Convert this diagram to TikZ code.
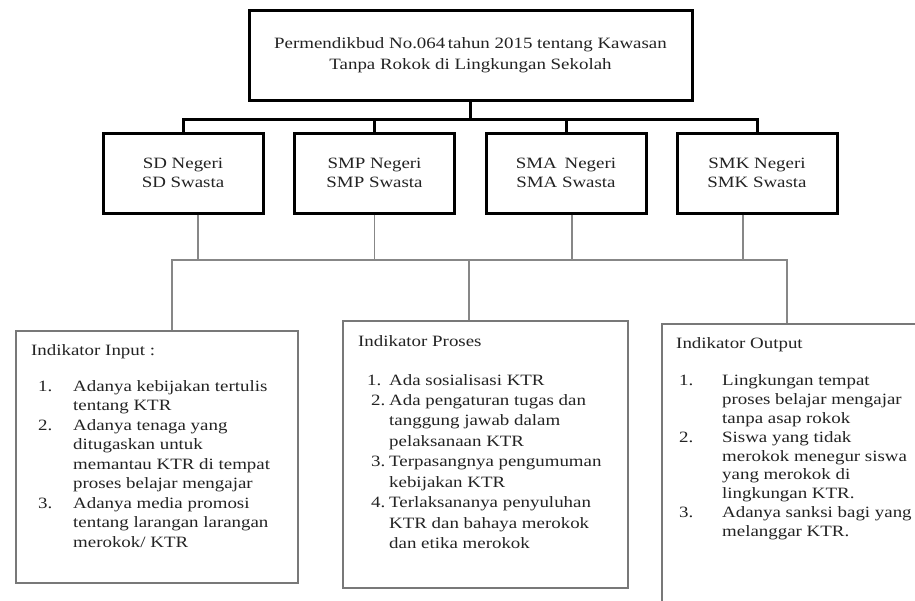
\documentclass[tikz,border=0pt]{standalone}
\usepackage{fontspec}
\setmainfont{Liberation Serif}[FakeStretch=1.2]
\usepackage{tikz}
\usetikzlibrary{calc}
\definecolor{ink}{RGB}{35, 35, 35}
\definecolor{frame}{RGB}{120, 120, 120}
\definecolor{wire}{RGB}{135, 135, 135}
\newcommand{\KTRsize}{\fontsize{15.75}{19.5}\selectfont}

\begin{document}
\begin{tikzpicture}[x=1pt, y=-1pt, font=\KTRsize,
  mainbox/.style={draw=black, line width=3pt, fill=white, text=ink, align=center, inner sep=0pt},
  indbox/.style={draw=frame, line width=1.5pt, anchor=north west, inner sep=0pt},
  indtext/.style={anchor=north west, inner sep=0pt, text=ink},
  bus/.style={line width=3pt},
  link/.style={draw=wire, line width=1.2pt}]

  \useasboundingbox (0, 0) rectangle (915, 600);
  \fill[white] (0, 0) rectangle (915, 600);
  \clip (0, 0) rectangle (915, 600);

  % peraturan dan jenjang sekolah
  \node[mainbox, minimum width=443pt, minimum height=90pt] (perm) at (470.5, 55)
  {Permendikbud No.064\,tahun 2015 tentang Kawasan\\[1.5pt] Tanpa Rokok di Lingkungan Sekolah};

  \foreach \name/\xpos/\first/\second in {sd/183/SD Negeri/SD Swasta,
      smp/374.5/SMP Negeri/SMP Swasta, sma/566/SMA\enspace Negeri/SMA Swasta,
      smk/757/SMK Negeri/SMK Swasta} {
    \node[mainbox, minimum width=160pt, minimum height=80pt] (\name) at (\xpos, 173) {\first\\\second};
  }

  \coordinate (bus) at ($(perm.south) + (0, 18)$);
  \draw[bus] (perm.south) -- (bus);
  \draw[bus] (sd.north) |- (bus) -| (smk.north);
  \draw[bus] (smp.north) -- (smp.north |- bus);
  \draw[bus] (sma.north) -- (sma.north |- bus);

  % kotak indikator
  \node[indbox, minimum width=282pt, minimum height=252pt] (input) at (15, 330) {};
  \node[indbox, minimum width=285pt, minimum height=267pt] (proses) at (342, 320) {};
  \node[indbox, minimum width=265pt, minimum height=295pt] (output) at (661, 323) {};

  \coordinate (hub) at (469, 260);
  \coordinate (hubL) at (172, 260);
  \coordinate (hubR) at (787, 260);
  \draw[link] (input.north -| hubL) -- (hubL) -- (hubR) -- (output.north -| hubR);
  \draw[link] (hub) -- (proses.north -| hub);
  \draw[link] ([xshift=15pt]sd.south) |- (hub);
  \draw[link] (smp.south) |- (hub);
  \draw[link] ([xshift=6pt]sma.south) |- (hub);
  \draw[link] ([xshift=-14pt]smk.south) |- (hub);

  \node[indtext] (inputtext) at ($(input.north west) + (16, 12)$) {%
    \begin{tabular}{@{\hspace{7pt}}p{35pt}@{}l@{}}
      \multicolumn{2}{@{}l@{}}{Indikator Input :}\\[16pt]
      1. & Adanya kebijakan tertulis\\
         & tentang KTR\\
      2. & Adanya tenaga yang\\
         & ditugaskan untuk\\
         & memantau KTR di tempat\\
         & proses belajar mengajar\\
      3. & Adanya media promosi\\
         & tentang larangan larangan\\
         & merokok/ KTR
    \end{tabular}};

  \node[indtext] (prosestext) at ($(proses.north west) + (16, 12)$) {%
    \renewcommand{\arraystretch}{1.05}%
    \begin{tabular}{@{}p{31pt}@{}l@{}}
      \multicolumn{2}{@{}l@{}}{Indikator Proses}\\[18pt]
      \hspace*{9pt}1. & Ada sosialisasi KTR\\
      \hspace*{13pt}2. & Ada pengaturan tugas dan\\
         & tanggung jawab dalam\\
         & pelaksanaan KTR\\
      \hspace*{13pt}3. & Terpasangnya pengumuman\\
         & kebijakan KTR\\
      \hspace*{13pt}4. & Terlaksananya penyuluhan\\
         & KTR dan bahaya merokok\\
         & dan etika merokok
    \end{tabular}};

  \node[indtext] (outputtext) at ($(output.north west) + (15, 12)$) {%
    \renewcommand{\arraystretch}{0.97}%
    \begin{tabular}{@{\hspace{3pt}}p{43pt}@{}l@{}}
      \multicolumn{2}{@{}l@{}}{Indikator Output}\\[18pt]
      1. & Lingkungan tempat\\
         & proses belajar mengajar\\
         & tanpa asap rokok\\
      2. & Siswa yang tidak\\
         & merokok menegur siswa\\
         & yang merokok di\\
         & lingkungan KTR.\\
      3. & Adanya sanksi bagi yang\\
         & melanggar KTR.
    \end{tabular}};

\end{tikzpicture}
\end{document}
